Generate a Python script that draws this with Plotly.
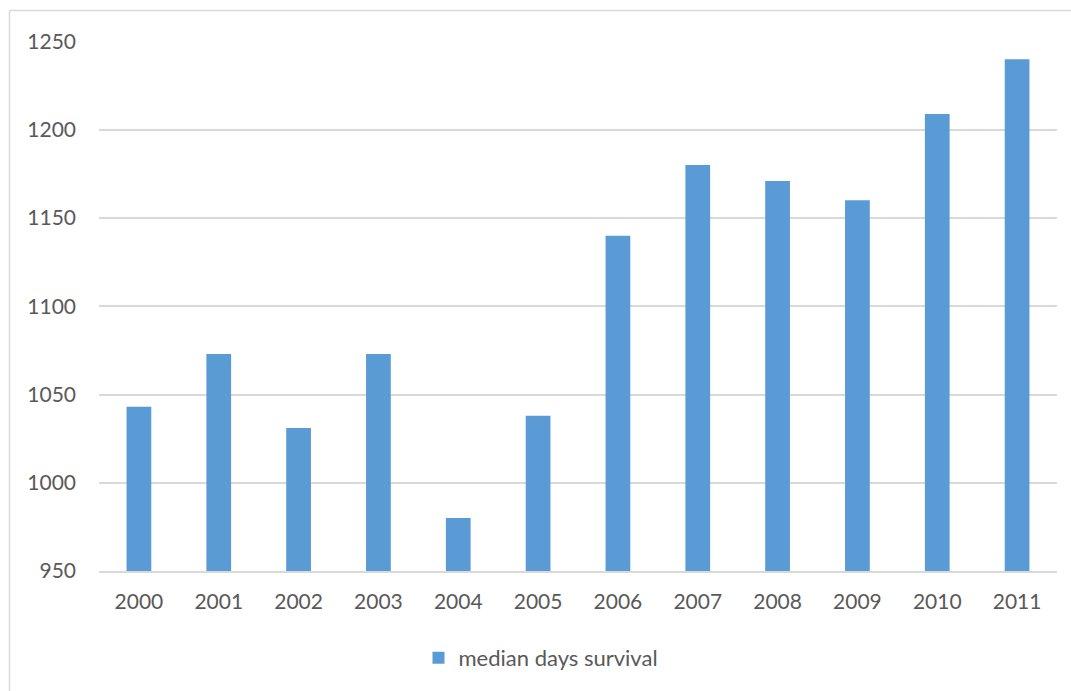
import plotly.graph_objects as go

# Median days of survival by year
years = ["2000", "2001", "2002", "2003", "2004", "2005",
         "2006", "2007", "2008", "2009", "2010", "2011"]
median_days = [1043, 1073, 1031, 1073, 980, 1038,
               1140, 1180, 1171, 1160, 1209, 1240]
series_name = "median days survival"
y_ticks = [950, 1000, 1050, 1100, 1150, 1200, 1250]

BAR = "#5B9BD5"
GRID = "#D9D9D9"
TEXT = "#595959"
FONT = "Lato, 'Open Sans', sans-serif"

W, H = 1071, 691
L, R, T, B = 99, 14, 41, 120
pw, ph = W - L - R, H - T - B

fig = go.Figure(
    go.Bar(
        x=years,
        y=median_days,
        name=series_name,
        marker=dict(color=BAR, line=dict(width=0)),
        showlegend=True,
    )
)

# chart-area frame (left and top edges visible)
bx = (9.5 - L) / pw
by = 1 + (T - 10.5) / ph
fig.add_shape(type="line", xref="paper", yref="paper",
              x0=bx, x1=bx, y0=by, y1=-B / ph - 0.1,
              line=dict(color=GRID, width=1.5))
fig.add_shape(type="line", xref="paper", yref="paper",
              x0=bx, x1=1 + (R + 10) / pw, y0=by, y1=by,
              line=dict(color=GRID, width=1.5))

fig.update_layout(
    width=W, height=H,
    margin=dict(l=L, r=R, t=T, b=B, pad=0),
    paper_bgcolor="white",
    plot_bgcolor="white",
    bargap=0.69,
    font=dict(family=FONT, color=TEXT, size=21),
    showlegend=True,
    legend=dict(
        orientation="h",
        x=(541 - L) / pw, xanchor="center",
        y=-(658 - (T + ph)) / ph, yanchor="middle",
        font=dict(family=FONT, color=TEXT, size=22),
        itemwidth=30,
    ),
    xaxis=dict(
        type="category",
        showgrid=False,
        showline=True, linecolor=GRID, linewidth=1.5,
        ticks="", ticklabelstandoff=11,
        tickfont=dict(family=FONT, color=TEXT, size=21),
        fixedrange=True,
    ),
    yaxis=dict(
        range=[950, 1250.3],
        tickvals=y_ticks,
        showgrid=True, gridcolor=GRID, gridwidth=1.5,
        zeroline=False, showline=False,
        ticks="", ticklabelstandoff=22,
        tickfont=dict(family=FONT, color=TEXT, size=21),
        fixedrange=True,
    ),
)

fig.write_html("out.html")
